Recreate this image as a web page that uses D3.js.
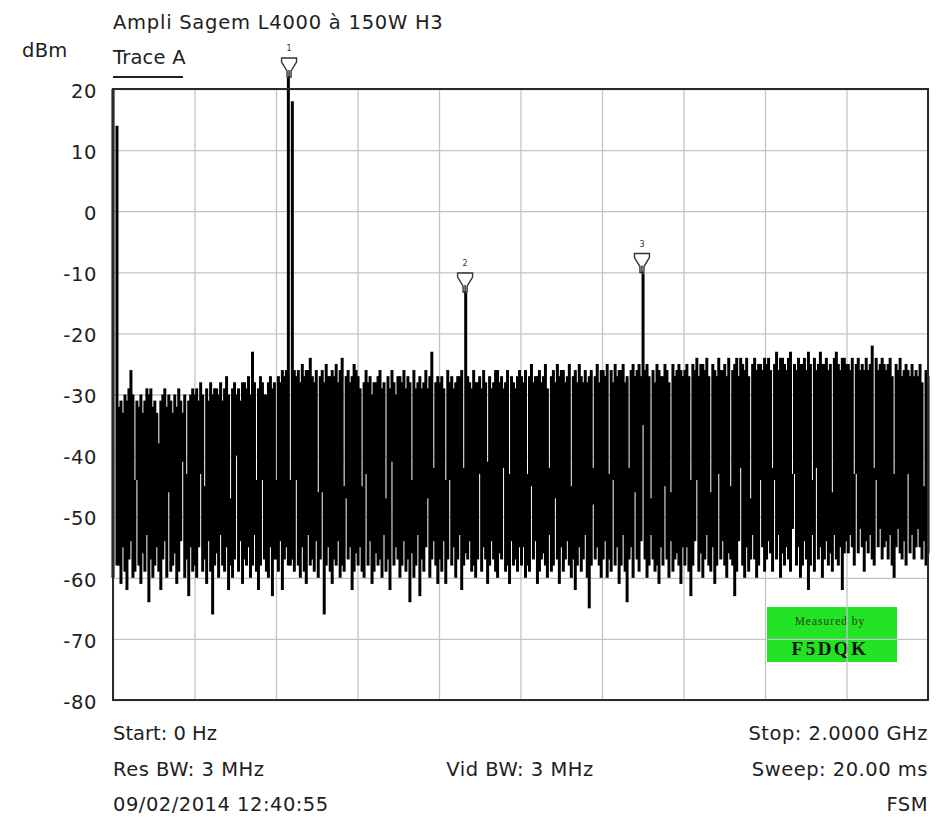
<!DOCTYPE html>
<html>
<head>
<meta charset="utf-8">
<script src="https://cdn.jsdelivr.net/npm/d3@7/dist/d3.min.js"></script>
<style>
  html, body { margin: 0; padding: 0; background: #fff; }
  svg { display: block; }
</style>
</head>
<body>
<svg id="chart" width="936" height="817"></svg>
<script>
// ---------------- data ----------------
const title = "Ampli Sagem L4000 à 150W H3";
const unitLabel = "dBm";
const traceName = "Trace A";
const startMHz = 0;
const stopMHz = 2000;
const yTickValues = [20, 10, 0, -10, -20, -30, -40, -50, -60, -70, -80];
const xGridMHz = [0, 200, 400, 600, 800, 1000, 1200, 1400, 1600, 1800, 2000];

// marker (harmonic) readings
const markerIds = ["1", "2", "3"];
const markerMHz = [432, 864, 1298];
const markerDbm = [21.8, -13.4, -10.2];

// sweep points (0..2000 MHz, evenly spaced): max-hold top of each display column (dBm)
const traceTop = [
  20, -70, 14, -32, -31, -33, -30, -31, -29, -26, -30, -44, -31, -32, -30, -33, -31, -29, -30, -29, -32, -31, -33, -38, -31, -30, -29, -32, -30, -31, -33, -30, -32, -29, -31, -33, -30, -43, -31, -30, -29,
  -30, -29, -31, -28, -30, -45, -29, -31, -28, -30, -29, -29, -30, -28, -31, -29, -27, -30, -47, -29, -28, -30, -29, -31, -28, -28, -29, -27, -30, -23, -28, -44, -29, -27, -28, -30, -30, -28, -27, -29, -28,
  -44, -27, -28, -26, -27, -26, 21.8, -44, 18, -26, -27, -26, -28, -25, -27, -26, -26, -24, -27, -28, -26, -46, -27, -26, -28, -25, -27, -27, -26, -27, -25, -28, -26, -24, -45, -27, -26, -28, -27, -25, -26,
  -27, -29, -45, -28, -26, -28, -27, -30, -28, -28, -27, -26, -29, -28, -47, -27, -29, -26, -28, -30, -27, -27, -28, -26, -29, -27, -28, -44, -26, -29, -28, -27, -29, -28, -26, -29, -27, -23, -42, -28, -27,
  -28, -27, -29, -44, -26, -28, -27, -29, -28, -27, -27, -26, -42, -13.4, -27, -28, -29, -26, -28, -28, -27, -29, -26, -28, -41, -27, -29, -28, -26, -26, -28, -27, -29, -28, -26, -43, -27, -28, -29, -27, -26,
  -27, -28, -26, -43, -27, -25, -28, -27, -27, -26, -28, -27, -25, -29, -42, -27, -26, -28, -25, -27, -26, -26, -28, -27, -25, -45, -27, -26, -28, -25, -27, -28, -26, -28, -27, -26, -48, -27, -25, -28, -26,
  -26, -27, -25, -43, -26, -28, -25, -27, -26, -26, -25, -28, -27, -42, -26, -25, -27, -26, -25, -27, -10.2, -26, -25, -27, -47, -26, -28, -25, -26, -27, -27, -25, -26, -28, -46, -25, -27, -26, -25, -26, -27,
  -26, -25, -27, -44, -25, -26, -24, -27, -25, -25, -26, -24, -27, -46, -25, -26, -27, -24, -26, -26, -25, -27, -24, -45, -26, -25, -24, -27, -24, -25, -26, -24, -27, -47, -25, -24, -26, -25, -25, -26, -24,
  -25, -24, -26, -42, -25, -23, -26, -24, -24, -25, -26, -24, -23, -43, -25, -26, -24, -25, -25, -24, -26, -23, -25, -44, -24, -26, -25, -23, -25, -25, -24, -26, -25, -46, -24, -23, -25, -26, -24, -24, -25,
  -25, -26, -24, -43, -25, -24, -26, -25, -26, -24, -26, -25, -22, -42, -24, -26, -25, -24, -25, -26, -25, -24, -27, -43, -25, -26, -24, -27, -26, -25, -26, -27, -25, -27, -26, -27, -25, -28, -45, -26, -27
];
// min-hold bottom of each display column (dBm)
const traceBottom = [
  -60, -70, -58, -58, -61, -55, -59, -62, -57, -54, -60, -59, -44, -58, -61, -56, -59, -53, -64, -57, -60, -58, -55, -59, -62, -57, -54, -60, -46, -59, -58, -56, -61, -59, -54, -41, -60, -57, -63, -55, -59,
  -58, -60, -55, -43, -59, -57, -61, -54, -59, -66, -58, -56, -60, -53, -58, -59, -55, -62, -58, -60, -57, -40, -59, -54, -61, -57, -58, -55, -60, -58, -53, -59, -62, -58, -44, -57, -59, -60, -55, -63, -57,
  -57, -59, -54, -62, -57, -55, -58, -58, -57, -59, -44, -58, -60, -55, -59, -61, -53, -58, -57, -59, -54, -60, -57, -46, -66, -58, -55, -59, -61, -57, -58, -54, -60, -58, -59, -47, -57, -55, -62, -59, -56,
  -58, -55, -59, -60, -43, -58, -54, -61, -59, -56, -58, -57, -60, -53, -59, -57, -62, -41, -58, -55, -57, -60, -58, -54, -59, -57, -64, -56, -60, -58, -53, -63, -57, -59, -55, -47, -60, -57, -54, -58, -61,
  -57, -59, -54, -61, -57, -44, -58, -55, -60, -57, -53, -62, -58, -56, -57, -54, -59, -58, -60, -57, -43, -59, -55, -57, -61, -58, -54, -57, -59, -60, -56, -57, -42, -59, -58, -61, -54, -58, -57, -59, -55,
  -58, -55, -60, -58, -59, -45, -57, -54, -61, -59, -57, -56, -58, -60, -53, -59, -58, -47, -57, -61, -55, -59, -57, -54, -58, -60, -57, -62, -58, -55, -59, -57, -53, -60, -65, -58, -42, -57, -55, -58, -60,
  -57, -54, -60, -57, -59, -44, -58, -55, -61, -58, -53, -59, -64, -57, -55, -60, -46, -57, -59, -54, -35, -57, -60, -58, -53, -57, -59, -58, -61, -55, -58, -45, -57, -60, -54, -59, -57, -56, -58, -61, -55,
  -58, -55, -59, -63, -58, -54, -44, -59, -56, -60, -57, -53, -58, -59, -55, -61, -58, -43, -57, -54, -58, -60, -56, -57, -58, -63, -59, -54, -42, -58, -60, -55, -59, -57, -53, -57, -60, -58, -44, -55, -59,
  -57, -54, -56, -59, -44, -57, -53, -60, -56, -58, -55, -57, -59, -52, -43, -58, -55, -60, -58, -54, -57, -62, -58, -53, -59, -42, -57, -55, -60, -57, -54, -58, -56, -59, -53, -57, -58, -55, -62, -56, -54,
  -56, -53, -55, -58, -43, -56, -52, -55, -59, -54, -56, -53, -57, -58, -44, -55, -52, -57, -55, -54, -57, -53, -58, -60, -55, -52, -56, -57, -54, -58, -43, -56, -53, -57, -55, -52, -55, -57, -54, -58, -56
];

const footLeft = ["Start: 0 Hz", "Res BW: 3 MHz", "09/02/2014 12:40:55"];
const footCenter = ["Vid BW: 3 MHz"];
const footRight = ["Stop: 2.0000 GHz", "Sweep: 20.00 ms", "FSM"];
const stampLines = ["Measured by", "F5DQK"];

// ---------------- drawing ----------------
const svg = d3.select("#chart");
const plot = { left: 113, right: 928, top: 89, bottom: 700 };
const SANS = "DejaVu Sans, sans-serif";
const INK = "#1e1e1e";

const x = d3.scaleLinear().domain([startMHz, stopMHz]).range([plot.left, plot.right]);
const y = d3.scaleLinear().domain([-80, 20]).range([plot.bottom, plot.top]);

function label(xp, yp, t, anchor, spacing) {
  return svg.append("text").attr("x", xp).attr("y", yp)
    .attr("text-anchor", anchor || "start")
    .style("font-family", SANS).style("font-size", "19.5px")
    .style("letter-spacing", (spacing == null ? 0.4 : spacing) + "px")
    .style("fill", INK).text(t);
}

// header texts
label(113, 29, title, "start", 0.75);
label(22, 57, unitLabel, "start", 0.3);
label(113, 64, traceName, "start", 0.2);
svg.append("line").attr("x1", 113).attr("x2", 183).attr("y1", 77).attr("y2", 77)
  .attr("stroke", "#222").attr("stroke-width", 2);

// green stamp (behind grid)
const stamp = svg.append("g");
stamp.append("rect").attr("x", 767).attr("y", 607).attr("width", 130).attr("height", 55)
  .attr("fill", "#22e324");

// grid
const gridX = svg.append("g").attr("transform", `translate(0,${plot.bottom})`)
  .call(d3.axisBottom(x).tickValues(xGridMHz).tickSize(-(plot.bottom - plot.top)).tickFormat(""));
const gridY = svg.append("g").attr("transform", `translate(${plot.left},0)`)
  .call(d3.axisLeft(y).tickValues(yTickValues).tickSize(-(plot.right - plot.left)).tickFormat(""));
[gridX, gridY].forEach(g => {
  g.select(".domain").remove();
  g.selectAll(".tick line").attr("stroke", "#c4c4c4").attr("stroke-width", 1.3);
});

stamp.append("text").attr("x", 830).attr("y", 625).attr("text-anchor", "middle")
  .style("font-family", "Liberation Serif, serif").style("font-size", "11.5px")
  .style("letter-spacing", "1px").style("fill", "#27401c").text(stampLines[0]);
stamp.append("text").attr("x", 830).attr("y", 655).attr("text-anchor", "middle")
  .style("font-family", "Liberation Serif, serif").style("font-weight", "bold").style("font-size", "19px")
  .style("letter-spacing", "2.5px").style("fill", "#111").text(stampLines[1]);

// y tick labels
const yAxis = svg.append("g").attr("transform", `translate(${plot.left},0)`)
  .call(d3.axisLeft(y).tickValues(yTickValues).tickSize(0).tickPadding(16).tickFormat(d => String(d)));
yAxis.select(".domain").remove();
yAxis.selectAll("text").style("font-family", SANS).style("font-size", "19.5px")
  .style("letter-spacing", "0.6px").style("fill", INK).attr("dy", "0.42em");

// trace columns
const n = traceTop.length;
const step = (stopMHz - startMHz) / (n - 1);
const colW = (x(step) - x(0)) * 1.5;
svg.append("g").selectAll("line").data(d3.range(n)).join("line")
  .attr("x1", i => x(startMHz + i * step)).attr("x2", i => x(startMHz + i * step))
  .attr("y1", i => y(traceTop[i])).attr("y2", i => y(traceBottom[i]))
  .attr("stroke", "#000").attr("stroke-width", colW);

// plot frame
svg.append("rect").attr("x", plot.left).attr("y", plot.top)
  .attr("width", plot.right - plot.left).attr("height", plot.bottom - plot.top)
  .attr("fill", "none").attr("stroke", "#2a2a2a").attr("stroke-width", 2);

// markers
const mk = svg.append("g").selectAll("g").data(d3.range(markerIds.length)).join("g")
  .attr("transform", i => `translate(${x(markerMHz[i])},${y(markerDbm[i])})`);
mk.append("path")
  .attr("d", "M-7.5,-20 L7.5,-20 L7.5,-16 L2,-7 L2,-1 L-2,-1 L-2,-7 L-7.5,-16 Z")
  .attr("fill", "#fff").attr("stroke", "#333").attr("stroke-width", 1.4);
mk.append("line").attr("x1", 0).attr("x2", 0).attr("y1", -8).attr("y2", 0)
  .attr("stroke", "#000").attr("stroke-width", 1.2);
mk.append("text").attr("x", 0).attr("y", -27).attr("text-anchor", "middle")
  .style("font-family", SANS).style("font-size", "8px").style("fill", "#333").text(i => markerIds[i]);

// footer
const footY = [740, 776, 811];
footLeft.forEach((t, i) => label(113, footY[i], t, "start", i === 0 ? 0 : 0.5));
footCenter.forEach(t => label(520, footY[1], t, "middle", 0.5));
footRight.forEach((t, i) => label(928, footY[i], t, "end", 0.5));
</script>
</body>
</html>
